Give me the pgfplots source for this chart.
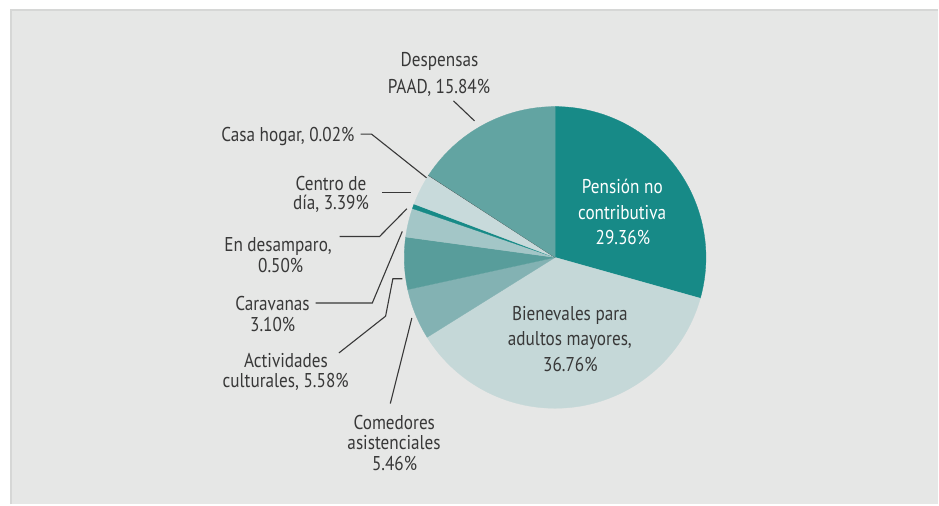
\documentclass[border=0pt]{standalone}
\usepackage{pgfplots}
\usepackage{pgfplotstable}
\pgfplotsset{compat=1.18}
\usepackage{fontspec}
\setmainfont{PT Sans}[FakeStretch=0.86]
\definecolor{bgbox}{HTML}{E6E7E6}
\definecolor{bgline}{HTML}{D6D7D6}
\definecolor{txt}{HTML}{383838}
\definecolor{slice0}{HTML}{178A87}
\definecolor{slice1}{HTML}{C5D8D8}
\definecolor{slice2}{HTML}{83B2B3}
\definecolor{slice3}{HTML}{589D9B}
\definecolor{slice4}{HTML}{A3C6C7}
\definecolor{slice5}{HTML}{178A87}
\definecolor{slice6}{HTML}{C8DADB}
\definecolor{slice7}{HTML}{444444}
\definecolor{slice8}{HTML}{62A4A2}
\pgfplotstableread{
name value
Pension 29.36
Bienevales 36.76
Comedores 5.46
Actividades 5.58
Caravanas 3.10
Desamparo 0.50
CentroDia 3.39
CasaHogar 0.02
Despensas 15.84
}\piedata
\def\cx{555.7}
\def\cy{257.7}
\def\rr{151}
\begin{document}
\begin{tikzpicture}[lab/.style={text=txt, font=\fontsize{20bp}{20bp}\selectfont, inner sep=0pt, anchor=base}]
\begin{axis}[x=1bp, y=1bp, y dir=reverse, xmin=0, xmax=939, ymin=0, ymax=505,
  hide axis, clip=false, anchor=origin, at={(0,0)}]
\fill[white] (axis cs:0,0) rectangle (axis cs:939,505);
\fill[bgbox] (axis cs:10,9) rectangle (axis cs:939,505);
\draw[bgline, line width=2bp] (axis cs:11,505) -- (axis cs:11,10) -- (axis cs:939,10);
\pgfmathsetmacro{\cum}{0}
\pgfplotsforeachungrouped \i in {0,...,8}{
  \pgfplotstablegetelem{\i}{value}\of\piedata
  \let\val\pgfplotsretval
  \pgfmathsetmacro{\a}{90-3.6*\cum}
  \pgfmathsetmacro{\cum}{\cum+\val}
  \pgfmathsetmacro{\b}{90-3.6*\cum}
  \ifnum\i=7
    \edef\temp{\noexpand\addplot[fill=slice\i, draw=slice\i, line width=0.6bp, domain=\b:\a, samples=3] ({\cx+\rr*cos(x)},{\cy-\rr*sin(x)}) -- (axis cs:\cx,\cy) -- cycle;}
  \else
    \edef\temp{\noexpand\addplot[fill=slice\i, draw=slice\i, line width=0.3bp, domain=\b:\a, samples=90] ({\cx+\rr*cos(x)},{\cy-\rr*sin(x)}) -- (axis cs:\cx,\cy) -- cycle;}
  \fi
  \temp
}
% leader lines
\draw[txt, line width=1.1bp] (axis cs:454,101) -- (axis cs:475,121);
\draw[txt, line width=1.1bp] (axis cs:361,134.3) -- (axis cs:372,134.3) -- (axis cs:427,178);
\draw[txt, line width=1.1bp] (axis cs:382.3,192.3) -- (axis cs:411.7,192.3);
\draw[txt, line width=1.1bp] (axis cs:340,236.7) -- (axis cs:380,236.7) -- (axis cs:407.3,209);
\draw[txt, line width=1.1bp] (axis cs:316,303.3) -- (axis cs:372.7,303.3) -- (axis cs:402.7,231.7);
\draw[txt, line width=1.1bp] (axis cs:339.3,353.3) -- (axis cs:386,316.5) -- (axis cs:393.3,279) -- (axis cs:402.7,279);
\draw[txt, line width=1.1bp] (axis cs:390.7,404) -- (axis cs:412.3,318.3);
% labels
\node[lab] at (axis cs:440,66.7) {Despensas};
\node[lab] at (axis cs:439.5,93.3) {PAAD, 15.84\%};
\node[lab, anchor=base east] at (axis cs:355,142) {Casa hogar, 0.02\%};
\node[lab] at (axis cs:331.3,191) {Centro de};
\node[lab] at (axis cs:331.3,210) {día, 3.39\%};
\node[lab] at (axis cs:278.3,251.7) {En desamparo,};
\node[lab] at (axis cs:281,272.7) {0.50\%};
\node[lab] at (axis cs:272.8,311) {Caravanas};
\node[lab] at (axis cs:273,331.7) {3.10\%};
\node[lab] at (axis cs:286.3,368.3) {Actividades};
\node[lab] at (axis cs:286,388.3) {culturales, 5.58\%};
\node[lab] at (axis cs:394.7,430) {Comedores};
\node[lab] at (axis cs:394.5,450) {asistenciales};
\node[lab] at (axis cs:395,470.7) {5.46\%};
\node[lab, text=white] at (axis cs:623,194) {Pensión no};
\node[lab, text=white] at (axis cs:622.8,219.3) {contributiva};
\node[lab, text=white] at (axis cs:623.5,245) {29.36\%};
\node[lab] at (axis cs:570.5,321) {Bienevales para};
\node[lab] at (axis cs:570.5,346) {adultos mayores,};
\node[lab] at (axis cs:571,371.7) {36.76\%};
\end{axis}
\end{tikzpicture}
\end{document}
